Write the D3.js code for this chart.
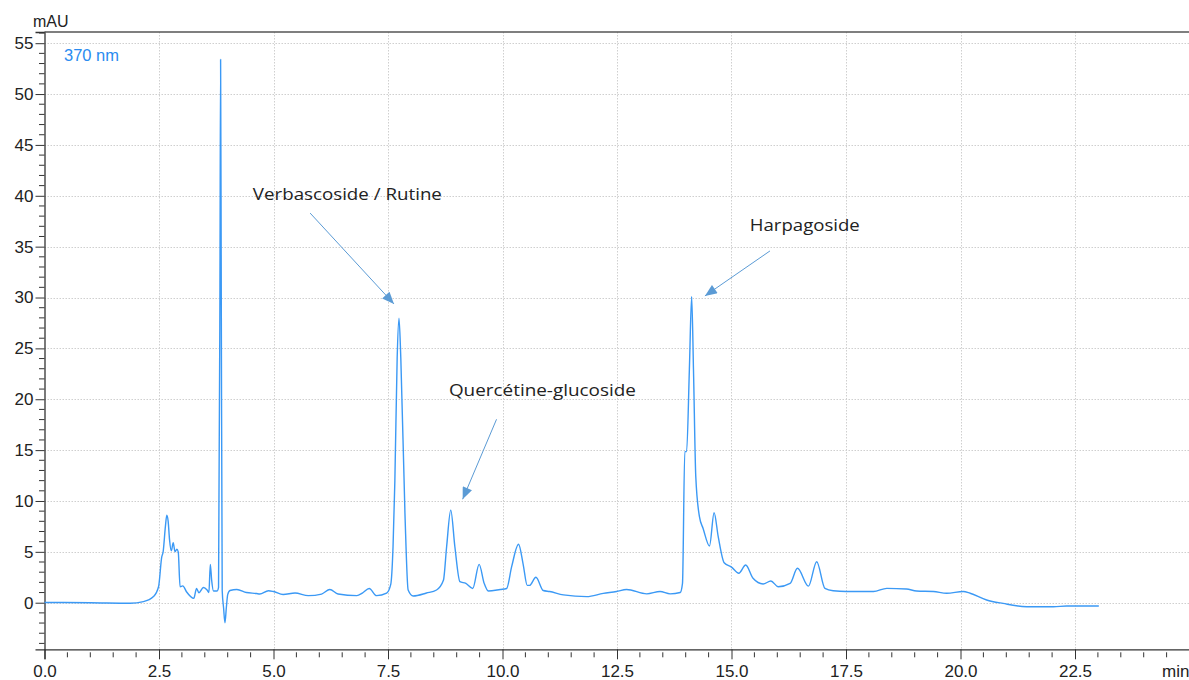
<!DOCTYPE html>
<html lang="en">
<head>
    <meta charset="UTF-8">
    <title>Chromatogram 370 nm</title>
    <script src="https://cdn.jsdelivr.net/npm/d3@7"></script>
    <style>
        body { margin: 0; background: #fff; }
        .tick-label { font: 17px "Liberation Sans", Arial, sans-serif; fill: #222; }
        .grid line { stroke: #cfcfcf; stroke-width: 1; stroke-dasharray: 1.5,1.5; }
        .note { font: 17px "Open Sans", sans-serif; fill: #222; }
    </style>
</head>
<body>
    <svg width="1189" height="680"></svg>

    <script>
        // retention time (min) and absorbance (mAU)
        var times = [0, 1.0, 1.87, 2.16, 2.38, 2.49, 2.56, 2.59, 2.64, 2.67, 2.70, 2.73, 2.77, 2.81, 2.85, 2.89, 2.92, 2.96,
            3.02, 3.10, 3.26, 3.32, 3.37, 3.47, 3.55, 3.59, 3.62, 3.65, 3.69, 3.77, 3.80, 3.83, 3.845, 3.86, 3.88, 3.91,
            3.94, 3.97, 4.00, 4.05, 4.20, 4.41, 4.63, 4.70, 4.89, 5.00, 5.21, 5.47, 5.76, 6.05, 6.23, 6.41, 6.82, 6.94,
            7.09, 7.25, 7.47, 7.56, 7.61, 7.65, 7.70, 7.74, 7.78, 7.87, 7.94, 8.05, 8.34, 8.56, 8.71, 8.78, 8.87, 8.96,
            9.07, 9.20, 9.35, 9.49, 9.60, 9.69, 9.95, 10.09, 10.20, 10.35, 10.45, 10.54, 10.59, 10.73, 10.89, 11.03,
            11.33, 11.84, 12.20, 12.49, 12.71, 13.15, 13.44, 13.66, 13.88, 13.93, 13.98, 14.02, 14.08, 14.13, 14.17,
            14.22, 14.30, 14.38, 14.52, 14.62, 14.71, 14.84, 15.00, 15.16, 15.31, 15.47, 15.69, 15.86, 16.02, 16.28,
            16.44, 16.68, 16.86, 17.04, 17.22, 17.51, 18.10, 18.39, 18.82, 19.04, 19.41, 19.70, 20.06, 20.21, 20.57,
            20.93, 21.45, 22.03, 22.32, 23.02];
        var mau = [0.02, 0.0, -0.05, 0.1, 0.6, 1.57, 4.5, 5.0, 7.5, 8.6, 8.0, 6.2, 5.1, 5.9, 5.0, 5.25, 5.0, 1.57,
            1.65, 1.08, 0.43, 1.4, 0.98, 1.5, 1.25, 1.0, 3.77, 2.2, 1.15, 1.15, 1.5, 30, 53.4, 30, 1.2, -0.5,
            -1.97, -0.5, 0.8, 1.2, 1.3, 1.0, 0.9, 0.85, 1.18, 1.1, 0.8, 0.95, 0.7, 0.85, 1.3, 0.85, 0.7, 0.95,
            1.4, 0.7, 0.95, 1.8, 5.5, 12, 24, 27.96, 24, 8.8, 1.25, 0.66, 0.95, 1.25, 2.2, 5.5, 9.1, 5.5,
            2.07, 1.9, 1.4, 3.77, 1.9, 1.15, 1.3, 1.4, 3.54, 5.74, 3.8, 1.7, 1.7, 2.5, 1.2, 1.1,
            0.77, 0.6, 0.92, 1.1, 1.3, 0.87, 1.1, 0.87, 1.0, 1.9, 14.85, 14.85, 22.9, 30.1, 22.9,
            12.4, 8.46, 7.3, 5.58, 8.85, 6.5, 3.93, 3.5, 2.9, 3.7, 2.4, 1.84, 2.13, 1.57, 1.9,
            3.38, 1.63, 4.03, 1.41, 1.17, 1.1, 1.1, 1.41, 1.35, 1.15, 1.1, 0.93, 1.1, 0.93, 0.27,
            -0.07, -0.39, -0.39, -0.33, -0.33];

        var xMajor = [0, 2.5, 5, 7.5, 10, 12.5, 15, 17.5, 20, 22.5];
        var yMajor = [0, 5, 10, 15, 20, 25, 30, 35, 40, 45, 50, 55];

        // peak labels: text anchor, arrow start, arrow tip (min, mAU)
        var noteText = ["Verbascoside / Rutine", "Quercétine-glucoside", "Harpagoside"];
        var noteAt = [[4.55, 39.6], [8.83, 20.33], [15.40, 36.55]];
        var noteWidth = [189, 187, 110];
        var arrowFrom = [[5.80, 38.3], [9.87, 18.03], [15.84, 34.58]];
        var arrowTo = [[7.63, 29.37], [9.13, 10.17], [14.42, 30.16]];

        var svg = d3.select("svg");
        var plotLeft = 44.5, plotRight = 1189.5, plotTop = 32, plotBottom = 649.3;

        var x = d3.scaleLinear().domain([0, 25]).range([plotLeft, plotRight]);
        var y = d3.scaleLinear().domain([-4.58, 56.1]).range([plotBottom, plotTop]);

        // dotted grid
        var grid = svg.append("g").attr("class", "grid");
        grid.selectAll(".gx").data(xMajor.filter(function(d) { return d > 0; }))
            .enter().append("line")
            .attr("x1", function(d) { return Math.round(x(d)) + 0.5; })
            .attr("x2", function(d) { return Math.round(x(d)) + 0.5; })
            .attr("y1", plotTop).attr("y2", plotBottom);
        grid.selectAll(".gy").data(yMajor)
            .enter().append("line")
            .attr("y1", function(d) { return Math.round(y(d)) + 0.5; })
            .attr("y2", function(d) { return Math.round(y(d)) + 0.5; })
            .attr("x1", plotLeft).attr("x2", plotRight);

        // x axis
        var xAxis = svg.append("g").attr("transform", "translate(0," + plotBottom + ")");
        xAxis.call(d3.axisBottom(x).tickValues(xMajor).tickSize(10).tickPadding(6)
            .tickFormat(d3.format(".1f")));
        xAxis.selectAll("text").attr("class", "tick-label").attr("font-size", null).attr("font-family", null);
        xAxis.select(".domain").attr("stroke", "#333").attr("stroke-width", 1.3);
        xAxis.selectAll(".tick line").attr("stroke", "#333");
        var xMinor = d3.range(0.5, 25, 0.5).filter(function(d) { return d % 2.5 !== 0; });
        svg.append("g").selectAll("line").data(xMinor).enter().append("line")
            .attr("x1", function(d) { return x(d); }).attr("x2", function(d) { return x(d); })
            .attr("y1", plotBottom + 3).attr("y2", plotBottom + 8)
            .attr("stroke", "#333");

        // y axis
        var yAxis = svg.append("g").attr("transform", "translate(" + plotLeft + ",0)");
        yAxis.call(d3.axisLeft(y).tickValues(yMajor).tickSize(9).tickPadding(2));
        yAxis.selectAll("text").attr("class", "tick-label").attr("font-size", null).attr("font-family", null);
        yAxis.select(".domain").attr("stroke", "#333").attr("stroke-width", 1.3);
        yAxis.selectAll(".tick line").attr("stroke", "#333");
        var yMinor = d3.range(-4, 57, 1).filter(function(d) { return d % 5 !== 0; });
        svg.append("g").selectAll("line").data(yMinor).enter().append("line")
            .attr("y1", function(d) { return y(d); }).attr("y2", function(d) { return y(d); })
            .attr("x1", plotLeft - 5.5).attr("x2", plotLeft)
            .attr("stroke", "#333");

        // top frame
        svg.append("line").attr("x1", plotLeft).attr("x2", plotRight).attr("y1", plotTop).attr("y2", plotTop)
            .attr("stroke", "#555").attr("stroke-width", 1.3);

        svg.append("text").attr("class", "tick-label").attr("x", 33).attr("y", 27)
            .style("font-size", "16px").text("mAU");
        svg.append("text").attr("class", "tick-label").attr("x", 1162).attr("y", 677).text("min");
        svg.append("text").attr("x", 64).attr("y", 61)
            .style("font", "16.5px 'Liberation Sans', Arial, sans-serif").attr("fill", "#2a8cf0")
            .text("370 nm");

        // trace
        var points = times.map(function(t, i) { return [t, mau[i]]; });
        var line = d3.line()
            .x(function(d) { return x(d[0]); })
            .y(function(d) { return y(d[1]); })
            .curve(d3.curveMonotoneX);
        svg.append("path").datum(points)
            .attr("d", line)
            .attr("fill", "none")
            .attr("stroke", "#3b99f5")
            .attr("stroke-width", 1.4)
            .attr("stroke-linejoin", "round");

        // annotations
        svg.append("defs").append("marker")
            .attr("id", "head")
            .attr("markerUnits", "userSpaceOnUse")
            .attr("viewBox", "0 0 12 10")
            .attr("refX", 12).attr("refY", 5)
            .attr("markerWidth", 13).attr("markerHeight", 10)
            .attr("orient", "auto")
            .append("path").attr("d", "M0,0 L12,5 L0,10 Z").attr("fill", "#5b9bd5");

        var notes = svg.append("g");
        noteText.forEach(function(txt, i) {
            notes.append("line")
                .attr("x1", x(arrowFrom[i][0])).attr("y1", y(arrowFrom[i][1]))
                .attr("x2", x(arrowTo[i][0])).attr("y2", y(arrowTo[i][1]))
                .attr("stroke", "#5b9bd5").attr("stroke-width", 1)
                .attr("marker-end", "url(#head)");
            notes.append("text").attr("class", "note")
                .attr("x", x(noteAt[i][0])).attr("y", y(noteAt[i][1]))
                .attr("textLength", noteWidth[i]).attr("lengthAdjust", "spacingAndGlyphs")
                .text(txt);
        });
    </script>
</body>
</html>
